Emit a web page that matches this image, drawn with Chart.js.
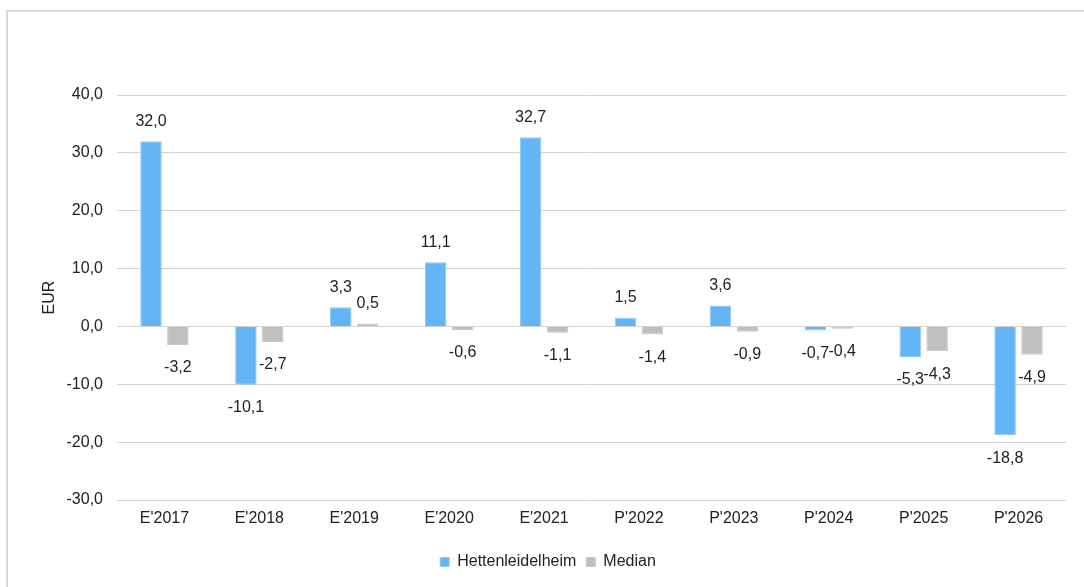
<!DOCTYPE html>
<html>
<head>
<meta charset="utf-8">
<script src="https://cdn.jsdelivr.net/npm/chart.js@4.4.1/dist/chart.umd.min.js"></script>
<style>
  html, body { margin: 0; padding: 0; background: #fff; }
  #wrap { position: relative; width: 1084px; height: 587px; overflow: hidden; }
  #frame { position: absolute; left: 6px; top: 10px; width: 1200px; height: 700px;
           border-left: 2px solid #d9d9d9; border-top: 2px solid #d9d9d9; }
  canvas { position: absolute; left: 0; top: 0; }
</style>
</head>
<body>
<div id="wrap">
  <div id="frame"></div>
  <canvas id="c" width="1084" height="587"></canvas>
</div>
<script>
var categories = ["E'2017", "E'2018", "E'2019", "E'2020", "E'2021", "P'2022", "P'2023", "P'2024", "P'2025", "P'2026"];
var hettenleidelheim = [32.0, -10.1, 3.3, 11.1, 32.7, 1.5, 3.6, -0.7, -5.3, -18.8];
var median = [-3.2, -2.7, 0.5, -0.6, -1.1, -1.4, -0.9, -0.4, -4.3, -4.9];

var FONT = '"Liberation Sans", Arial, sans-serif';
var TEXT = '#222222';
var FS = 16;

function fmt(v) {
  return Number(v).toFixed(1).replace('.', ',');
}

// value labels above / below each bar end
var barLabels = {
  id: 'barLabels',
  afterDatasetsDraw: function (chart) {
    var ctx = chart.ctx;
    ctx.save();
    ctx.font = FS + 'px ' + FONT;
    ctx.fillStyle = TEXT;
    ctx.textAlign = 'center';
    ctx.textBaseline = 'middle';
    chart.data.datasets.forEach(function (ds, di) {
      var meta = chart.getDatasetMeta(di);
      meta.data.forEach(function (el, i) {
        var v = ds.data[i];
        var y = v >= 0 ? el.y - 20 : el.y + 23;
        ctx.fillText(fmt(v), el.x, y);
      });
    });
    ctx.restore();
  }
};

new Chart(document.getElementById('c').getContext('2d'), {
  type: 'bar',
  data: {
    labels: categories,
    datasets: [
      { label: 'Hettenleidelheim', data: hettenleidelheim, backgroundColor: '#63b5f5', borderColor: '#8cc8f7', borderWidth: 1 },
      { label: 'Median', data: median, backgroundColor: '#bfbfbf', borderColor: '#c8c8c8', borderWidth: 1 }
    ]
  },
  options: {
    responsive: false,
    animation: false,
    categoryPercentage: 0.567,
    barPercentage: 0.8,
    layout: { padding: { left: 30, right: 18, top: 95, bottom: 7 } },
    plugins: {
      legend: {
        position: 'bottom',
        labels: {
          boxWidth: 9,
          boxHeight: 9,
          padding: 10,
          color: TEXT,
          font: { family: FONT, size: FS }
        }
      },
      tooltip: { enabled: false }
    },
    scales: {
      x: {
        grid: { display: false, drawTicks: false },
        border: { display: false },
        ticks: { color: TEXT, padding: 9, font: { family: FONT, size: FS } },
        afterFit: function (s) { s.height = 44; }
      },
      y: {
        min: -30,
        max: 40,
        grid: { color: '#d3d3d3', lineWidth: 1, drawTicks: false },
        border: { display: false },
        ticks: {
          stepSize: 10,
          padding: 14,
          color: TEXT,
          font: { family: FONT, size: FS },
          callback: function (v) { return fmt(v); }
        },
        title: {
          display: true,
          text: 'EUR',
          color: TEXT,
          padding: { top: 10, bottom: 0 },
          font: { family: FONT, size: FS }
        },
        afterFit: function (s) { s.width = 87; }
      }
    }
  },
  plugins: [barLabels]
});
</script>
</body>
</html>
